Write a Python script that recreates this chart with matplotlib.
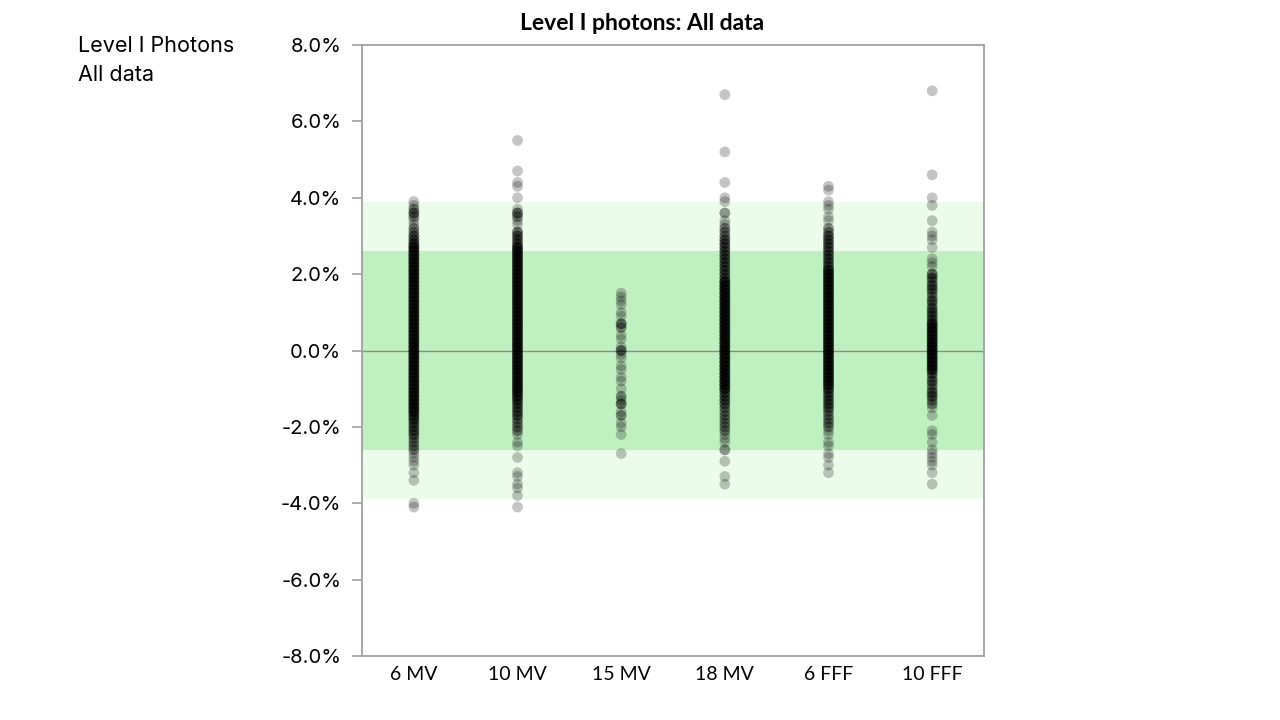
import matplotlib
matplotlib.use("Agg")
import matplotlib.pyplot as plt
import numpy as np

# categories on the x axis
categories = ["6 MV", "10 MV", "15 MV", "18 MV", "6 FFF", "10 FFF"]

# deviation values (%) and how many points sit on each value
mv6_vals = [3.9, 3.8, 3.7, 3.6, 3.5, 3.4, 3.3, 3.2, 3.1, 3.0, 2.9, 2.8,
            2.7, 2.6, 2.5, 2.4, 2.3, 2.2, 2.1, 2.0, 1.9, 1.8, 1.7, 1.6, 1.5, 1.4, 1.3, 1.2, 1.1, 1.0,
            0.9, 0.8, 0.7, 0.6, 0.5, 0.4, 0.3, 0.2, 0.1, 0.0, -0.1, -0.2, -0.3, -0.4, -0.5, -0.6, -0.7, -0.8, -0.9, -1.0,
            -1.1, -1.2, -1.3, -1.4, -1.5, -1.6, -1.7, -1.8, -1.9, -2.0, -2.1, -2.2, -2.3, -2.4, -2.5, -2.6,
            -2.7, -2.8, -2.9, -3.0, -3.2, -3.4, -4.0, -4.1]
mv6_counts = [1, 1, 2, 3, 2, 1, 1, 2, 2, 3, 3, 4,
              5, 5, 5, 5, 5, 5, 5, 5, 5, 5, 5, 5, 5, 5, 5, 5, 5, 5,
              5, 5, 5, 5, 5, 5, 5, 5, 5, 5, 5, 5, 5, 5, 5, 5, 5, 5, 5, 5,
              5, 5, 5, 5, 5, 5, 4, 4, 3, 3, 3, 3, 2, 2, 2, 2,
              1, 1, 1, 1, 1, 1, 1, 1]

mv10_vals = [5.5, 4.7, 4.4, 4.3, 4.0, 3.7, 3.6, 3.5, 3.4, 3.3, 3.1, 3.0, 2.9, 2.8,
             2.7, 2.6, 2.5, 2.4, 2.3, 2.2, 2.1, 2.0, 1.9, 1.8, 1.7, 1.6, 1.5, 1.4, 1.3, 1.2, 1.1, 1.0,
             0.9, 0.8, 0.7, 0.6, 0.5, 0.4, 0.3, 0.2, 0.1, 0.0, -0.1, -0.2, -0.3, -0.4, -0.5, -0.6, -0.7, -0.8, -0.9, -1.0,
             -1.1, -1.2, -1.3, -1.4, -1.5, -1.6, -1.7, -1.8, -1.9, -2.0, -2.1, -2.2, -2.4, -2.5,
             -2.8, -3.2, -3.3, -3.5, -3.6, -3.8, -4.1]
mv10_counts = [1, 1, 1, 1, 1, 1, 3, 2, 1, 1, 3, 3, 3, 3,
               5, 5, 5, 5, 5, 5, 5, 5, 5, 5, 5, 5, 5, 5, 5, 5, 5, 5,
               5, 5, 5, 5, 5, 5, 5, 5, 5, 5, 5, 5, 5, 5, 5, 5, 5, 5, 5, 5,
               5, 4, 4, 3, 3, 3, 3, 2, 2, 2, 2, 1, 1, 1,
               1, 1, 1, 1, 1, 1, 1]

mv15_vals = [1.5, 1.4, 1.3, 1.2, 1.0, 0.9, 0.7, 0.6, 0.4, 0.3, 0.1, 0.0, -0.1, -0.2,
             -0.4, -0.5, -0.7, -0.8, -1.0, -1.2, -1.3, -1.4, -1.6, -1.7, -1.9, -2.0, -2.2, -2.7]
mv15_counts = [1, 1, 1, 1, 1, 1, 3, 2, 1, 1, 1, 3, 1, 1,
               1, 1, 1, 1, 1, 2, 1, 3, 1, 2, 1, 1, 1, 1]

mv18_vals = [6.7, 5.2, 4.4, 4.0, 3.9, 3.6, 3.4, 3.3, 3.2, 3.1, 3.0,
             2.9, 2.8, 2.7, 2.6, 2.5, 2.4, 2.3, 2.2, 2.1, 2.0, 1.9,
             1.8, 1.7, 1.6, 1.5, 1.4, 1.3, 1.2, 1.1, 1.0, 0.9, 0.8, 0.7, 0.6, 0.5, 0.4, 0.3, 0.2, 0.1, 0.0,
             -0.1, -0.2, -0.3, -0.4, -0.5, -0.6, -0.7, -0.8, -0.9, -1.0,
             -1.1, -1.2, -1.3, -1.4, -1.5, -1.6, -1.7, -1.8, -1.9, -2.0, -2.1, -2.2, -2.3,
             -2.4, -2.6, -2.9, -3.3, -3.5]
mv18_counts = [1, 1, 1, 1, 1, 2, 1, 1, 2, 2, 2,
               3, 3, 3, 3, 3, 3, 3, 3, 3, 3, 3,
               5, 5, 5, 5, 5, 5, 5, 5, 5, 5, 5, 5, 5, 5, 5, 5, 5, 5, 5,
               5, 5, 5, 5, 5, 5, 5, 5, 5, 5,
               3, 3, 3, 3, 2, 2, 2, 2, 2, 2, 2, 1, 1,
               1, 2, 1, 1, 1]

fff6_vals = [4.3, 4.2, 3.9, 3.8, 3.7, 3.5, 3.4, 3.2, 3.1, 3.0,
             2.9, 2.8, 2.7, 2.6, 2.5, 2.4, 2.3, 2.2,
             2.1, 2.0, 1.9, 1.8, 1.7, 1.6, 1.5, 1.4, 1.3, 1.2, 1.1, 1.0, 0.9, 0.8, 0.7, 0.6, 0.5, 0.4,
             0.3, 0.2, 0.1, 0.0, -0.1, -0.2, -0.3, -0.4, -0.5, -0.6, -0.7, -0.8, -0.9,
             -1.0, -1.1, -1.2, -1.3, -1.4, -1.5, -1.6, -1.7, -1.8, -1.9, -2.0, -2.1, -2.2,
             -2.4, -2.5, -2.7, -2.8, -3.0, -3.2]
fff6_counts = [1, 1, 1, 1, 1, 1, 1, 2, 2, 3,
               3, 3, 3, 3, 3, 3, 3, 3,
               5, 5, 5, 5, 5, 5, 5, 5, 5, 5, 5, 5, 5, 5, 5, 5, 5, 5,
               5, 5, 5, 5, 5, 5, 5, 5, 5, 5, 5, 5, 5,
               4, 3, 3, 3, 3, 3, 2, 2, 2, 2, 2, 1, 1,
               1, 1, 1, 1, 1, 1]

fff10_vals = [6.8, 4.6, 4.0, 3.8, 3.4, 3.1, 3.0, 2.9, 2.7, 2.4, 2.3, 2.2,
              2.0, 1.9, 1.8, 1.7, 1.6, 1.5, 1.4, 1.3, 1.2, 1.1, 1.0, 0.9, 0.8,
              0.7, 0.6, 0.5, 0.4, 0.3, 0.2, 0.1, 0.0, -0.1, -0.2, -0.3, -0.4, -0.5,
              -0.6, -0.7, -0.8, -0.9, -1.0, -1.1, -1.2, -1.3, -1.4, -1.5, -1.7,
              -2.1, -2.2, -2.4, -2.6, -2.7, -2.8, -2.9, -3.0, -3.2, -3.5]
fff10_counts = [1, 1, 1, 1, 1, 1, 1, 1, 1, 1, 1, 1,
                3, 3, 2, 3, 3, 2, 2, 3, 2, 3, 3, 3, 3,
                5, 5, 5, 5, 5, 5, 5, 5, 5, 5, 5, 5, 5,
                3, 2, 3, 2, 2, 3, 3, 2, 2, 1, 1,
                1, 1, 1, 1, 1, 1, 1, 1, 1, 1]

series = [(mv6_vals, mv6_counts), (mv10_vals, mv10_counts), (mv15_vals, mv15_counts),
          (mv18_vals, mv18_counts), (fff6_vals, fff6_counts), (fff10_vals, fff10_counts)]

# tolerance bands (%)
outer_band = 3.9
inner_band = 2.6
yticks = [-8, -6, -4, -2, 0, 2, 4, 6, 8]

fig = plt.figure(figsize=(12.8, 7.2), dpi=100)
ax = fig.add_axes([362 / 1280, 64 / 720, 622 / 1280, 611 / 720])

ax.axhspan(-outer_band, outer_band, color="#EBFDEA", zorder=0, lw=0)
ax.axhspan(-inner_band, inner_band, color="#C0F0C0", zorder=0, lw=0)
ax.axhline(0, color="#8a8a8a", lw=1.0, zorder=1)

for i, (vals, counts) in enumerate(series):
    y = np.repeat(vals, counts)
    x = np.full(len(y), i + 1)
    ax.scatter(x, y, s=60, color="black", alpha=0.23, edgecolors="none", zorder=2)

ax.set_xlim(0.5, 6.5)
ax.set_ylim(-8, 8)
ax.set_yticks(yticks)
ax.set_yticklabels([f"{v:.1f}%" for v in yticks], fontfamily="Inter", fontsize=14.5)
ax.set_xticks(range(1, 7))
ax.set_xticklabels(categories, fontfamily="Lato", fontsize=14)
ax.tick_params(axis="y", length=7, width=1.2, color="#a0a0a0", pad=8)
ax.tick_params(axis="x", length=0, pad=7)

for sp in ax.spines.values():
    sp.set_color("#a0a0a0")
    sp.set_linewidth(1.3)

fig.text(642 / 1280, 690 / 720, "Level I photons: All data", ha="center", va="baseline",
         fontfamily="Lato", fontweight="bold", fontsize=16.5)
fig.text(78 / 1280, 684 / 720, "Level I Photons\nAll data", ha="left", va="top",
         fontfamily="Inter", fontsize=15.5, linespacing=1.55)

fig.savefig("out.png", dpi=100)
